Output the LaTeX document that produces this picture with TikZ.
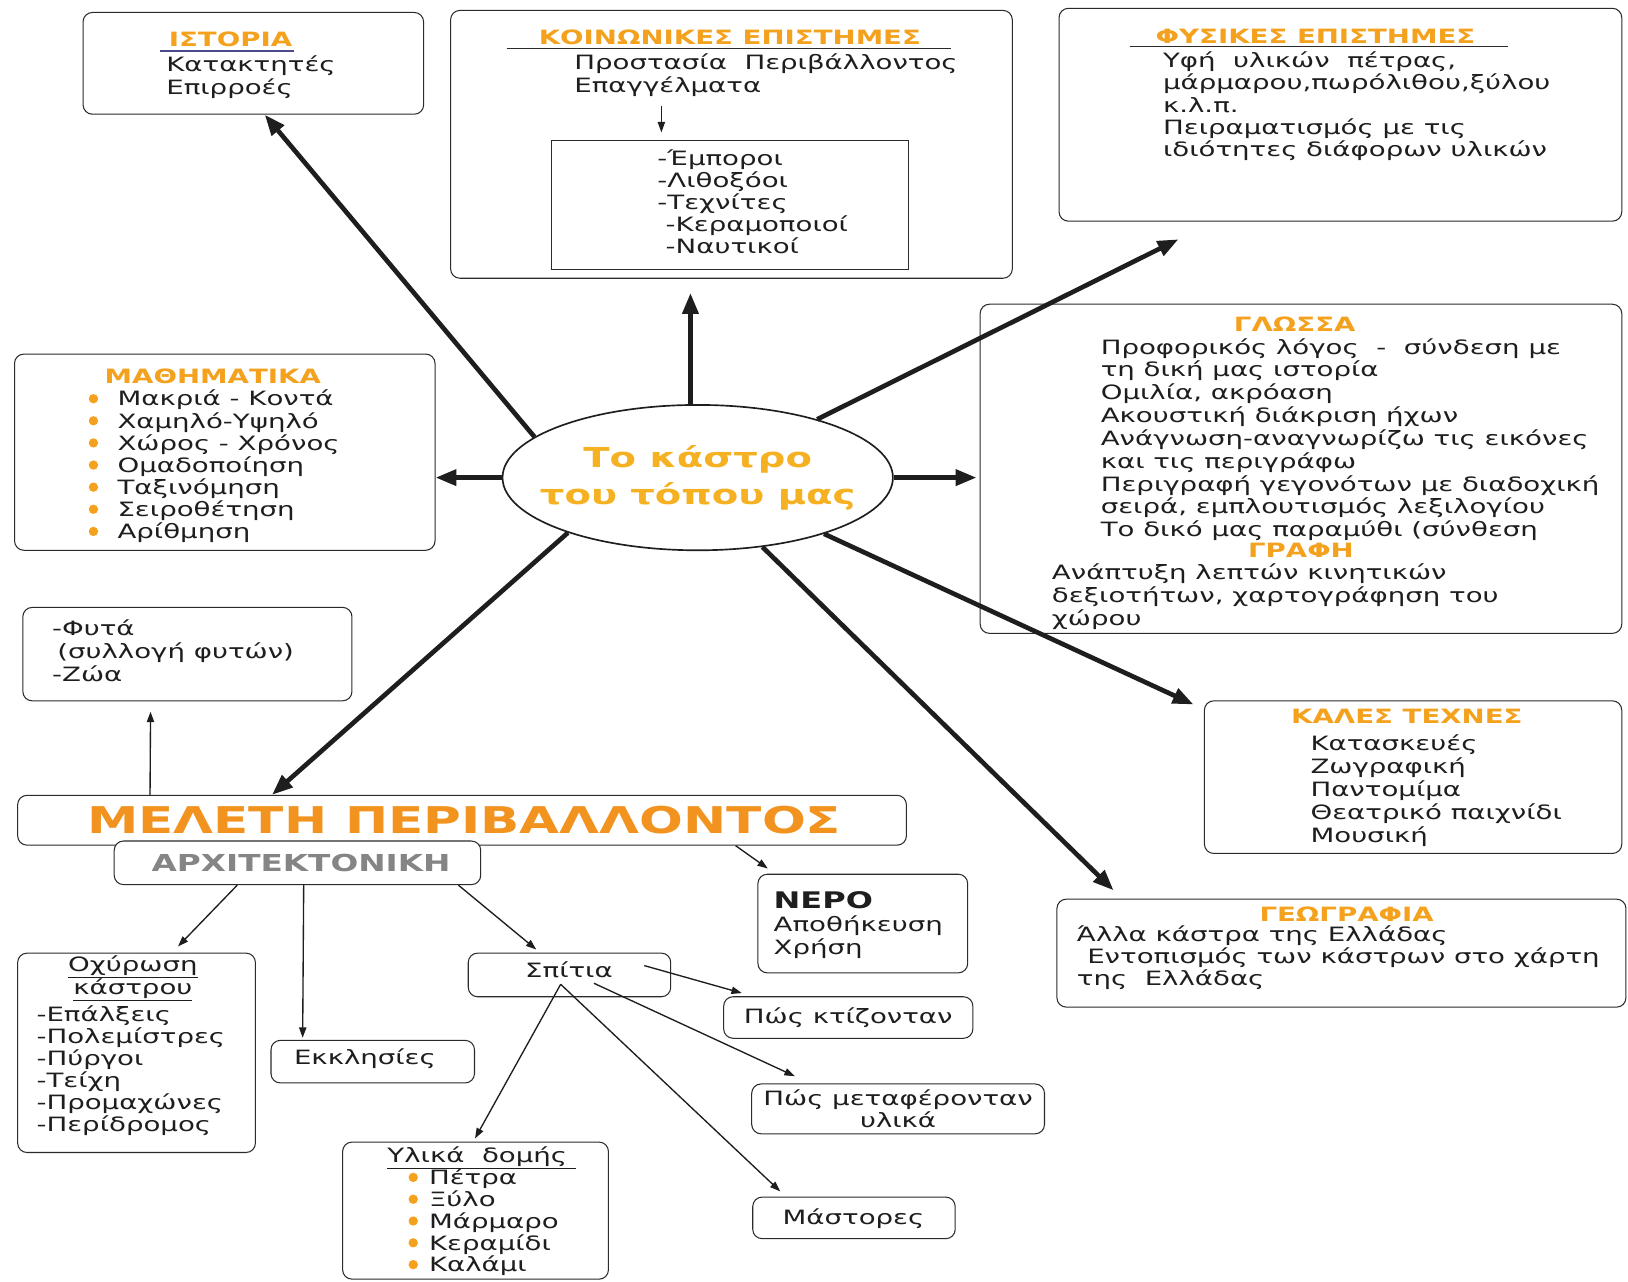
\documentclass[tikz,border=0pt]{standalone}
\usepackage{fontspec}
\setmainfont{DejaVu Sans}[FakeStretch=1.4]
\usetikzlibrary{arrows.meta,shapes.geometric,calc}
\definecolor{kaorange}{HTML}{F4A11E}
\definecolor{kayellow}{HTML}{F5B122}
\definecolor{kadeep}{HTML}{F29320}
\definecolor{kagray}{HTML}{858585}
\definecolor{kaline}{HTML}{2B2B2B}
\definecolor{kaink}{HTML}{1E1E1E}
\definecolor{kablue}{HTML}{4A4A8C}

\begin{document}
\begin{tikzpicture}[x=1pt,y=-1pt,
  panel/.style={draw=kaline,line width=1pt,rounded corners=9pt,fill=white,inner sep=0pt},
  head/.style={font=\bfseries\fontsize{19}{22}\selectfont,text=kaorange,inner sep=0pt,anchor=base},
  txt/.style={font=\fontsize{19}{22}\selectfont,text=kaink,align=left,anchor=base west,inner sep=0pt},
  thickarrow/.style={draw=kaink,line width=4.5pt,-{Triangle[length=20pt,width=15pt]}},
  thinarrow/.style={draw=kaink,line width=1.3pt,-{Triangle[length=10pt,width=7pt]}}]

  \path[fill=white,use as bounding box] (0,0) rectangle (1568,1234);

  % ---- Centre: the castle -----------------------------------
  \node[draw=kaink,line width=1.6pt,ellipse,minimum width=376pt,minimum height=140pt,inner sep=0pt] (castle) at (672,460) {};
  \node[font=\bfseries\fontsize{26.5}{36}\selectfont,text=kayellow,align=center,inner sep=0pt] (castleT) at (castle.center) {Το κάστρο\\του τόπου μας};

  % ---- ΙΣΤΟΡΙΑ ----------------------------------------------
  % (base of a multi-line node = baseline of its last line)
  \node[panel,minimum width=328pt,minimum height=98pt] (hist) at (244,61) {};
  \node[head] (histT) at (222,45) {ΙΣΤΟΡΙΑ};
  \draw[kablue,line width=1.5pt] ($(histT.base west)+(-8,4)$) -- ($(histT.base east)+(2,4)$);
  \node[txt] (histL) at (160,91) {Κατακτητές\\Επιρροές};

  % ---- ΚΟΙΝΩΝΙΚΕΣ ΕΠΙΣΤΗΜΕΣ ----------------------------------
  \node[panel,minimum width=541pt,minimum height=258pt] (soc) at (704.5,139) {};
  \node[head] (socT) at (703,43) {ΚΟΙΝΩΝΙΚΕΣ ΕΠΙΣΤΗΜΕΣ};
  \draw[kaline,line width=1.3pt] (488,47) -- (916,47);
  \node[txt] (socL) at (553,89) {Προστασία\ \ Περιβάλλοντος\\Επαγγέλματα};
  % Inner list of jobs
  \node[draw=kaline,line width=1pt,fill=white,minimum width=344pt,minimum height=125pt,inner sep=0pt] (socIn) at (703,197.5) {};
  \node[txt,font=\fontsize{19}{21.25}\selectfont] (socInL) at (633,244) {-Έμποροι\\-Λιθοξόοι\\-Τεχνίτες\\\hspace*{8pt}-Κεραμοποιοί\\\hspace*{8pt}-Ναυτικοί};
  \draw[thinarrow,line width=1pt] ($(socIn.north)+(-66,-32)$) -- ($(socIn.north)+(-66,-7)$);

  % ---- ΦΥΣΙΚΕΣ ΕΠΙΣΤΗΜΕΣ -------------------------------------
  \node[panel,minimum width=542pt,minimum height=205pt] (phys) at (1291,110.5) {};
  \node[head] (physT) at (1267,42) {ΦΥΣΙΚΕΣ ΕΠΙΣΤΗΜΕΣ};
  \draw[kaline,line width=1.3pt] (1088,45) -- (1452,45);
  \node[txt,font=\fontsize{19}{21.5}\selectfont] (physL) at (1120,151) {Υφή\ \ υλικών\ \ πέτρας,\\μάρμαρου,πωρόλιθου,ξύλου\\κ.λ.π.\\Πειραματισμός με τις\\ιδιότητες διάφορων υλικών};

  % ---- ΓΛΩΣΣΑ / ΓΡΑΦΗ ----------------------------------------
  \node[panel,minimum width=618pt,minimum height=317pt] (lang) at (1253,451.5) {};
  \node[head] (langT) at (1247,319) {ΓΛΩΣΣΑ};
  \node[txt] (langL) at (1060,517) {Προφορικός λόγος\ \ -\ \ σύνδεση με\\τη δική μας ιστορία\\Ομιλία, ακρόαση\\Ακουστική διάκριση ήχων\\Ανάγνωση-αναγνωρίζω τις εικόνες\\και τις περιγράφω\\Περιγραφή γεγονότων με διαδοχική\\σειρά, εμπλουτισμός λεξιλογίου\\Το δικό μας παραμύθι (σύνθεση};
  \node[head] (writeT) at (1253,537) {ΓΡΑΦΗ};
  \node[txt] (writeL) at (1013,602) {Ανάπτυξη λεπτών κινητικών\\δεξιοτήτων, χαρτογράφηση του\\χώρου};

  % ---- ΜΑΘΗΜΑΤΙΚΑ --------------------------------------------
  \node[panel,minimum width=405pt,minimum height=189pt] (math) at (216.5,435.5) {};
  \node[head] (mathT) at (205,369) {ΜΑΘΗΜΑΤΙΚΑ};
  \foreach \k in {0,...,6}
    \fill[kaorange] (90,{384+21.3*\k}) circle[radius=4.5pt];
  \node[txt,font=\fontsize{19}{21.3}\selectfont] (mathL) at (113,518.8) {Μακριά - Κοντά\\Χαμηλό-Υψηλό\\Χώρος - Χρόνος\\Ομαδοποίηση\\Ταξινόμηση\\Σειροθέτηση\\Αρίθμηση};

  % ---- Φυτά / Ζώα --------------------------------------------
  \node[panel,minimum width=317pt,minimum height=90pt] (plants) at (180.5,630) {};
  \node[txt] (plantsL) at (50,656) {-Φυτά\\\hspace*{5pt}(συλλογή φυτών)\\-Ζώα};

  % ---- ΜΕΛΕΤΗ ΠΕΡΙΒΑΛΛΟΝΤΟΣ / ΑΡΧΙΤΕΚΤΟΝΙΚΗ -------------------
  \node[panel,minimum width=856pt,minimum height=48pt] (env) at (445,790) {};
  \node[font=\bfseries\fontsize{35.5}{40}\selectfont,text=kadeep,inner sep=0pt,anchor=base] (envT) at (447,803) {ΜΕΛΕΤΗ ΠΕΡΙΒΑΛΛΟΝΤΟΣ};
  \node[panel,minimum width=353pt,minimum height=42pt] (arch) at (286.5,831) {};
  \node[font=\bfseries\fontsize{22.5}{26}\selectfont,text=kagray,inner sep=0pt,anchor=base] (archT) at (290,839) {ΑΡΧΙΤΕΚΤΟΝΙΚΗ};

  % ---- ΚΑΛΕΣ ΤΕΧΝΕΣ ------------------------------------------
  \node[panel,minimum width=402pt,minimum height=147pt] (arts) at (1361,748.5) {};
  \node[head] (artsT) at (1355,697) {ΚΑΛΕΣ ΤΕΧΝΕΣ};
  \node[txt] (artsL) at (1262,811) {Κατασκευές\\Ζωγραφική\\Παντομίμα\\Θεατρικό παιχνίδι\\Μουσική};

  % ---- ΓΕΩΓΡΑΦΙΑ ---------------------------------------------
  \node[panel,minimum width=548pt,minimum height=104pt] (geo) at (1292,918) {};
  \node[head] (geoT) at (1297,888) {ΓΕΩΓΡΑΦΙΑ};
  \node[txt,font=\fontsize{19}{21}\selectfont] (geoL) at (1037,949) {Άλλα κάστρα της Ελλάδας\\\hspace*{10pt}Εντοπισμός των κάστρων στο χάρτη\\της\ \ Ελλάδας};

  % ---- ΝΕΡΟ --------------------------------------------------
  \node[panel,minimum width=202pt,minimum height=95pt] (water) at (831,889.5) {};
  \node[txt] (waterL) at (745,919) {{\bfseries\fontsize{22}{22}\selectfont ΝΕΡΟ}\\Αποθήκευση\\Χρήση};

  % ---- Architecture branches ---------------------------------
  \node[panel,minimum width=229pt,minimum height=192pt] (fort) at (131.5,1014) {};
  \node[txt,align=center,anchor=base,font=\fontsize{19}{21}\selectfont] (fortT) at (128,958) {\underline{Οχύρωση}\\\underline{κάστρου}};
  \node[txt,font=\fontsize{19}{21.2}\selectfont] (fortL) at (35,1090) {-Επάλξεις\\-Πολεμίστρες\\-Πύργοι\\-Τείχη\\-Προμαχώνες\\-Περίδρομος};

  \node[panel,minimum width=196pt,minimum height=41pt] (church) at (359,1022.5) {};
  \node[txt] (churchL) at (283,1025) {Εκκλησίες};

  \node[panel,minimum width=195pt,minimum height=42pt] (houses) at (548.5,939) {};
  \node[txt,anchor=base] (housesL) at (548,941) {Σπίτια};

  \node[panel,minimum width=240pt,minimum height=40pt] (build) at (817,980) {};
  \node[txt,anchor=base] (buildL) at (817,986) {Πώς κτίζονταν};
  \node[panel,minimum width=282pt,minimum height=48pt] (trans) at (865,1068) {};
  \node[txt,align=center,anchor=base,font=\fontsize{19}{21}\selectfont] (transL) at (865,1086) {Πώς μεταφέρονταν\\υλικά};
  \node[panel,minimum width=195pt,minimum height=40pt] (mast) at (822.5,1173) {};
  \node[txt,anchor=base] (mastL) at (822,1179) {Μάστορες};

  \node[panel,minimum width=256pt,minimum height=132pt] (mat) at (458,1166) {};
  \node[txt] (matT) at (373,1120) {\underline{Υλικά\ \ δομής\ }};
  \foreach \k in {0,...,4}
    \fill[kaorange] (398,{1134+21*\k}) circle[radius=4.5pt];
  \node[txt,font=\fontsize{19}{21}\selectfont] (matL) at (413,1225) {Πέτρα\\Ξύλο\\Μάρμαρο\\Κεραμίδι\\Καλάμι};

  % ---- Thick arrows out of the centre ------------------------
  \draw[thickarrow] (castle.166) -- ($(hist.south)+(11,0)$);
  \draw[thickarrow] ($(castle.north)+(-7,0)$) -- ($(castle.north)+(-7,-107)$);
  \draw[thickarrow] (castle.26) -- ($(phys.south)+(-156,17)$);
  \draw[thickarrow] (castle.west) -- (castle.west -| math.east);
  \draw[thickarrow] (castle.east) -- ($(castle.east -| lang.west)+(-3,0)$);
  \draw[thickarrow] (castle.-24) -- ($(arts.north west)+(-10,4)$);
  \draw[thickarrow] (castle.-47) -- ($(geo.north west)+(55,-8)$);
  \draw[thickarrow] (castle.-157) -- ($(env.north)+(-183,0)$);

  % ---- Thin arrows ------------------------------------------
  \draw[thinarrow] ($(env.north west)+(128,0)$) -- ($(plants.south)+(-35.5,10)$);
  \draw[thinarrow] ($(env.south east)+(-165,0)$) -- ($(water.north west)+(10,-5)$);
  \draw[thinarrow] ($(arch.south)+(-58,0)$) -- ($(fort.north)+(40,-6)$);
  \draw[thinarrow] ($(arch.south)+(6,0)$) -- ($(church.north west)+(31,-2)$);
  \draw[thinarrow] ($(arch.south east)+(-22,0)$) -- ($(houses.north)+(-32,-3)$);
  \draw[thinarrow] ($(houses.east)+(-26,-9)$) -- ($(build.north west)+(18,-3)$);
  \draw[thinarrow] ($(houses.center)+(23.5,8)$) -- ($(trans.north west)+(42,-7)$);
  \draw[thinarrow] ($(houses.center)+(-8.5,9)$) -- ($(mast.north west)+(27,-5)$);
  \draw[thinarrow] ($(houses.center)+(-8.5,9)$) -- ($(mat.north west)+(128,-3)$);

\end{tikzpicture}
\end{document}
